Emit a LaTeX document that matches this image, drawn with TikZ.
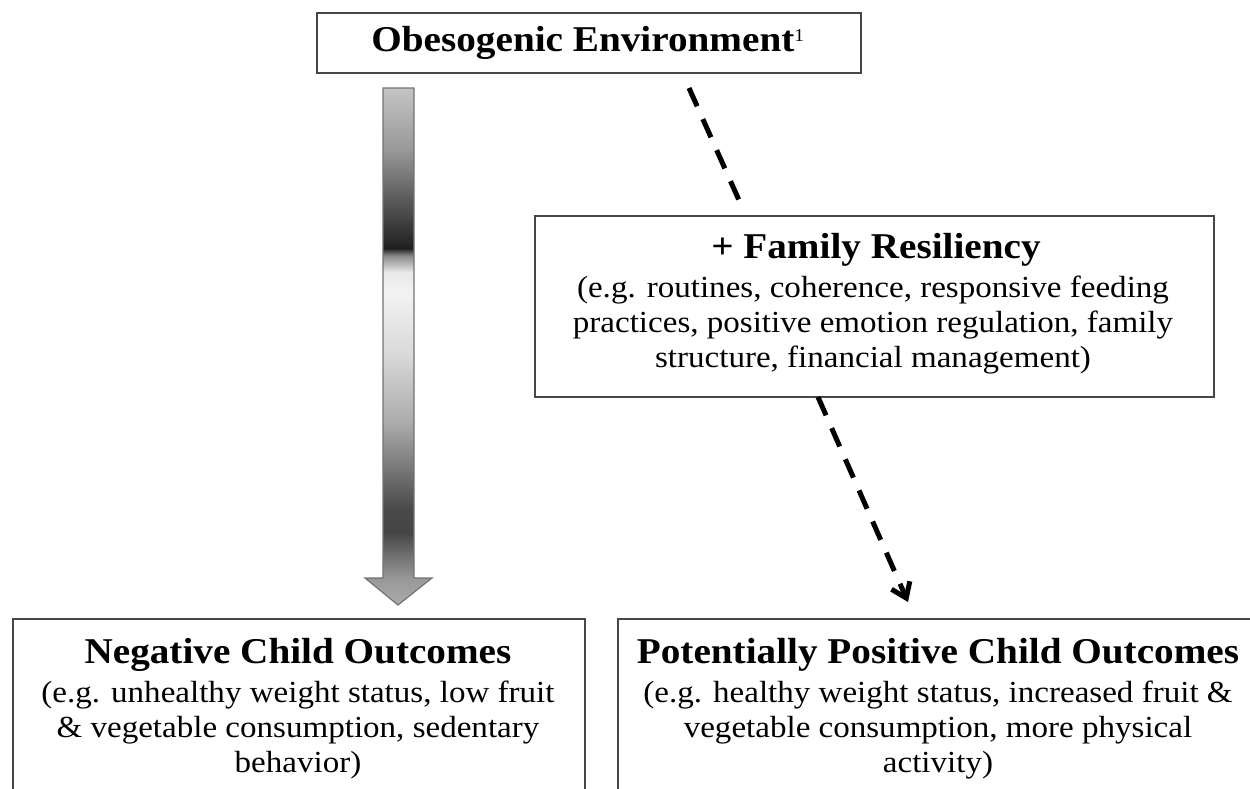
\documentclass[tikz,border=0pt]{standalone}
\usepackage{fontspec}
\setmainfont{Liberation Serif}[FakeStretch=1.08]
\usetikzlibrary{arrows.meta}

% grey bands of the large downward arrow; the path spans 25bp (tip) to 75bp (top)
\pgfdeclareverticalshading{shaftshade}{100bp}{%
  color(0bp)=(black!33); color(25bp)=(black!33); color(27.5bp)=(black!40);
  color(29.3bp)=(black!52); color(32bp)=(black!73); color(34.3bp)=(black!71);
  color(37.6bp)=(black!56); color(42.6bp)=(black!33); color(49.2bp)=(black!15);
  color(55.2bp)=(black!5); color(57.2bp)=(black!9); color(58.8bp)=(black!47);
  color(59.5bp)=(black!88); color(60.2bp)=(black!84); color(64.1bp)=(black!65);
  color(69.1bp)=(black!40); color(75bp)=(black!23); color(100bp)=(black!23)}

\begin{document}
\begin{tikzpicture}[x=1pt,y=-1pt,
  box/.style={draw=black!72, line width=2pt, fill=white, inner sep=0pt},
  title/.style={font=\fontsize{36.3}{40}\selectfont\bfseries, inner sep=0pt, anchor=base},
  body/.style={font=\fontsize{30.6}{35}\selectfont, inner sep=0pt, anchor=base},
  dashedlink/.style={line width=5pt, dash pattern=on 20pt off 14pt, black},
]
\useasboundingbox (0,0) rectangle (1250,788);
\clip (0,0) rectangle (1250,788);

% boxes
\node[box, anchor=north west, minimum width=544pt, minimum height=60pt] (envbox) at (316,12) {};
\node[box, anchor=north west, minimum width=679pt, minimum height=181pt] (resbox) at (534,215) {};
\node[box, anchor=north west, minimum width=572pt, minimum height=200pt] (negbox) at (12,618) {};
\node[box, anchor=north west, minimum width=642pt, minimum height=200pt] (posbox) at (617,618) {};

% texts
\node[title] (envtext) at (588,51) {Obesogenic Environment\textsuperscript{\fontsize{18}{18}\selectfont\mdseries 1}};

\node[title] (restitle) at (876,258) {+ Family Resiliency};
\node[body] (res1) at (873,297) {(e.g. routines, coherence, responsive feeding};
\node[body] (res2) at (873,332) {practices, positive emotion regulation, family};
\node[body] (res3) at (873,367) {structure, financial management)};

\node[title] (negtitle) at (298,663) {Negative Child Outcomes};
\node[body] (neg1) at (298,702) {(e.g. unhealthy weight status, low fruit};
\node[body] (neg2) at (298,737) {\& vegetable consumption, sedentary};
\node[body] (neg3) at (298,772) {behavior)};

\node[title] (postitle) at (938,663) {Potentially Positive Child Outcomes};
\node[body] (pos1) at (938,702) {(e.g. healthy weight status, increased fruit \&};
\node[body] (pos2) at (938,737) {vegetable consumption, more physical};
\node[body] (pos3) at (938,772) {activity)};

% large shaded arrow from the environment to the negative outcomes
\shade[shading=shaftshade, draw=black!55, line width=1.2pt]
  (383,88) -- (414,88) -- (414,578) -- (432,578) -- (398,605)
  -- (365,578) -- (383,578) -- cycle;

% dashed path through family resiliency to the positive outcomes
\coordinate (d1s) at (689,88);
\coordinate (d1e) at (742,207);
\coordinate (d2s) at (818,397);
\coordinate (d2e) at (908,602);
\draw[dashedlink] (d1s) -- (d1e);
\draw[dashedlink, -{Straight Barb[length=14pt, width=20pt, line width=5pt]}] (d2s) -- (d2e);
\end{tikzpicture}
\end{document}
